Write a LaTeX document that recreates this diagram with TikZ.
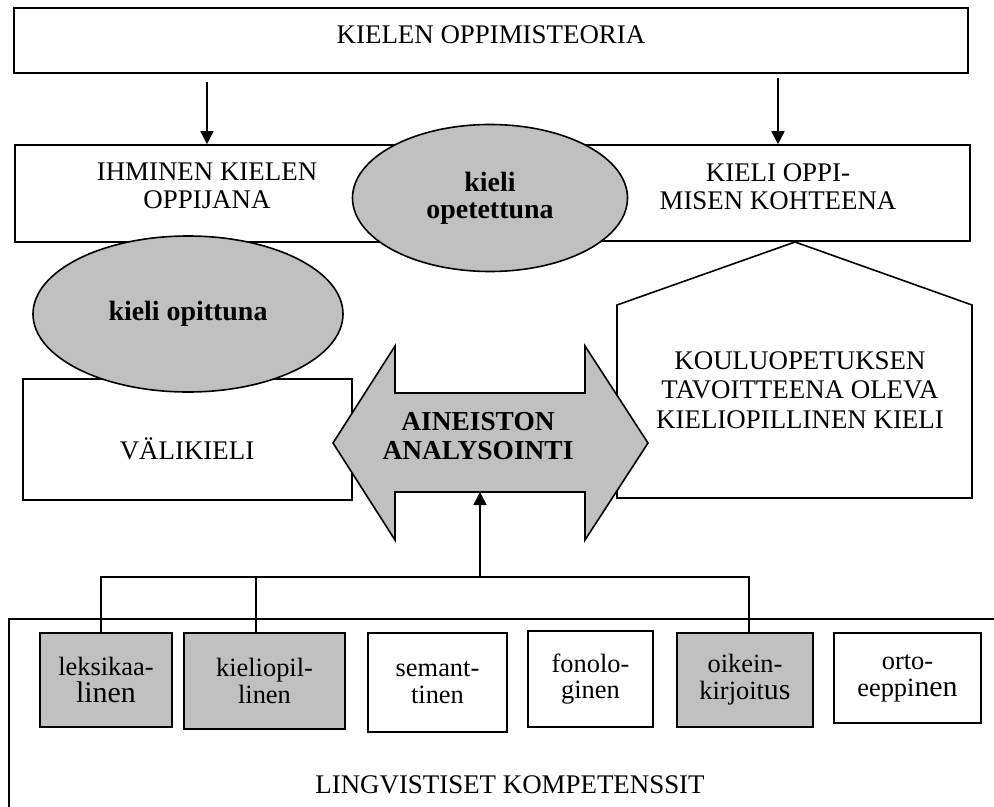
\documentclass[tikz,border=0pt]{standalone}
\usepackage{fontspec}
\setmainfont{Liberation Serif}
\usetikzlibrary{shapes.geometric,arrows.meta}
\definecolor{silver}{HTML}{C0C0C0}
\tikzset{
  boxst/.style={draw=black, line width=1.6bp, fill=white, inner sep=0pt},
  lbl/.style={align=center, inner sep=0pt, font=\fontsize{27}{28}\selectfont},
  blbl/.style={align=center, inner sep=0pt, font=\fontsize{27.5}{29}\selectfont\bfseries},
  oval/.style={ellipse, draw=black, line width=1.6bp, fill=silver, inner sep=0pt,
               align=center, font=\fontsize{28}{27}\selectfont\bfseries},
  cell/.style={boxst, align=center, font=\fontsize{26.5}{27}\selectfont},
  wire/.style={line width=1.6bp},
  arr/.style={wire, -{Triangle[length=13bp,width=13bp]}}
}
\newcommand{\bigpart}[1]{{\fontsize{30}{27}\selectfont #1}}
\begin{document}
\begin{tikzpicture}[x=1bp,y=-1bp]
\useasboundingbox (0,0) rectangle (994,807);
\fill[white] (0,0) rectangle (994,807);
\clip (0,0) rectangle (994,807);

% theory box
\node[boxst, minimum width=954bp, minimum height=65bp] (theory) at (491,40.5) {};
\node[lbl] (theorytxt) at (491,35) {KIELEN OPPIMISTEORIA};

% second row: learner and object of learning
\node[boxst, minimum width=460bp, minimum height=97bp] (learner) at (245,193.5) {};
\node[boxst, minimum width=465bp, minimum height=96bp] (object) at (737.5,193) {};
\node[lbl] (learnertxt) at (207,186) {IHMINEN KIELEN\\OPPIJANA};
\node[lbl] (objecttxt) at (778,187) {KIELI OPPI-\\MISEN KOHTEENA};

\draw[arr, shorten <=8bp] (theory.south -| learnertxt) -- (learner.north -| learnertxt);
\draw[arr, shorten <=4bp] (theory.south -| objecttxt) -- (object.north -| objecttxt);

\node[oval, minimum width=275bp, minimum height=147bp] (taught) at (490,198) {kieli\\opetettuna};

% interlanguage
\node[boxst, minimum width=329bp, minimum height=121bp] (inter) at (187.5,439.5) {};
\node[lbl] (intertxt) at (187,449) {VÄLIKIELI};
\node[oval, minimum width=310bp, minimum height=156bp] (learned) at (188,314) {kieli opittuna};

% target language (pentagon)
\filldraw[boxst] (795,242) -- (972,305) -- (972,498) -- (617,498) -- (617,305) -- cycle;
\node[lbl, font=\fontsize{27}{29.5}\selectfont] (goal) at (800,390)
  {KOULUOPETUKSEN\\TAVOITTEENA OLEVA\\KIELIOPILLINEN KIELI};

% double arrow: data analysis
\filldraw[boxst, fill=silver, line join=miter]
  (333,443) -- (395,346) -- (395,393) -- (585,393) -- (585,346) -- (648,443)
  -- (585,540) -- (585,492) -- (395,492) -- (395,540) -- cycle;
\node[blbl] (analysis) at (478,436) {AINEISTON\\ANALYSOINTI};
\coordinate (shaftbottom) at (480,492);

% linguistic competences
\node[boxst, fill=none, anchor=north west, minimum width=1020bp, minimum height=240bp] (comp) at (8,618) {};
\node[lbl] (comptxt) at (510,785) {LINGVISTISET KOMPETENSSIT};

\node[cell, fill=silver, minimum width=132bp, minimum height=94bp] (lex) at (106,680)
  {leksikaa-\\\bigpart{linen}};
\node[cell, fill=silver, minimum width=161bp, minimum height=96bp] (kie) at (264.5,681)
  {kieliopil-\\linen};
\node[cell, minimum width=139bp, minimum height=99bp] (sem) at (437.5,682.5)
  {semant-\\tinen};
\node[cell, minimum width=125bp, minimum height=96bp] (fon) at (590.5,679)
  {fonolo-\\ginen};
\node[cell, fill=silver, minimum width=136bp, minimum height=94bp] (oik) at (745,680)
  {oikein-\\kirjoit\bigpart{us}};
\node[cell, minimum width=147bp, minimum height=90bp] (ort) at (907.5,678)
  {orto-\\eeppi\bigpart{nen}};

% connectors from the competences to the analysis
\coordinate (hub) at (480,577);
\draw[wire] ([xshift=-5bp]lex.north) |- (hub) -| ([xshift=4bp]oik.north);
\draw[wire] ([xshift=-8.5bp]kie.north) -- ([xshift=-8.5bp]kie.north |- hub);
\draw[arr] (hub) -- (shaftbottom);
\end{tikzpicture}
\end{document}
